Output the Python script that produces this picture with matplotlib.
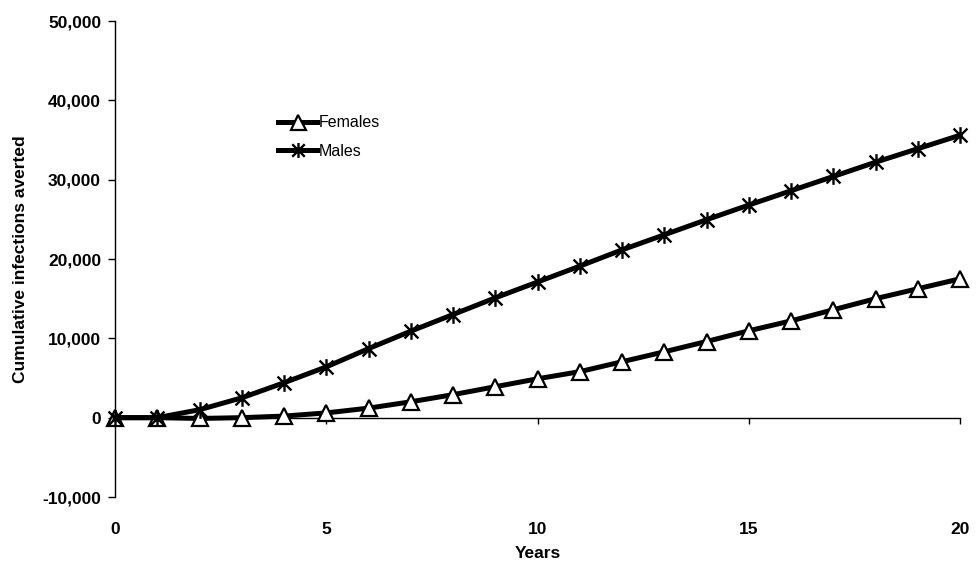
import matplotlib
matplotlib.use('Agg')
import matplotlib.pyplot as plt
from matplotlib.path import Path

# datos
years = list(range(0, 21))
females = [0, 0, -100, 0, 200, 600, 1200, 2000, 2900, 3900, 4900,
           5800, 7050, 8300, 9600, 10950, 12200, 13600, 15000, 16250, 17500]
males = [0, 0, 1000, 2500, 4400, 6400, 8700, 10900, 13000, 15100, 17100,
         19100, 21150, 23050, 24950, 26800, 28600, 30400, 32200, 33900, 35600]

y_ticks = [-10000, 0, 10000, 20000, 30000, 40000, 50000]
x_ticks = [0, 5, 10, 15, 20]

plt.rcParams['font.family'] = ['Liberation Sans', 'DejaVu Sans']

# marcador tipo estrella de Excel (X con linea vertical)
star = Path([(-1, -1), (1, 1), (-1, 1), (1, -1), (0, -1.2), (0, 1.2)],
            [Path.MOVETO, Path.LINETO, Path.MOVETO, Path.LINETO, Path.MOVETO, Path.LINETO])

fig = plt.figure(figsize=(9.76, 5.69), dpi=100)
ax = fig.add_axes([115/976, 1 - 497/569, 845/976, 476/569])

ax.plot(years, females, color='black', lw=3.6, marker='^', markersize=12,
        markerfacecolor='white', markeredgecolor='black', markeredgewidth=1.6,
        label='Females', zorder=3, clip_on=False)
ax.plot(years, males, color='black', lw=3.6, marker=star, markersize=12,
        markerfacecolor='none', markeredgecolor='black', markeredgewidth=1.7,
        label='Males', zorder=3, clip_on=False)

ax.set_xlim(0, 20)
ax.set_ylim(-10000, 50000)
ax.set_xticks(x_ticks)
ax.set_yticks(y_ticks)
ax.set_yticklabels([f'{v:,}' for v in y_ticks])

ax.spines['top'].set_visible(False)
ax.spines['right'].set_visible(False)
ax.spines['bottom'].set_position(('data', 0))
ax.spines['bottom'].set_linewidth(1.0)
ax.spines['left'].set_linewidth(1.0)

ax.tick_params(axis='y', direction='out', length=5, width=1, pad=5,
               labelsize=12.5)
ax.tick_params(axis='x', direction='out', length=4, width=1, pad=71,
               labelsize=12.5)
for lab in ax.get_xticklabels() + ax.get_yticklabels():
    lab.set_fontweight('bold')

ax.set_xlabel('Years', fontsize=12.5, fontweight='bold')
ax.xaxis.set_label_coords(0.5, -0.103)
ax.set_ylabel('Cumulative infections averted', fontsize=12.5, fontweight='bold')
ax.yaxis.set_label_coords(-0.103, 0.5)

leg = ax.legend(loc='upper left', bbox_to_anchor=(264/976, 1 - 101/569),
                bbox_transform=fig.transFigure, frameon=False, fontsize=11.5,
                handlelength=2.4, handletextpad=0.1, labelspacing=0.85,
                markerscale=0.9)

fig.savefig('out.png', dpi=100)
